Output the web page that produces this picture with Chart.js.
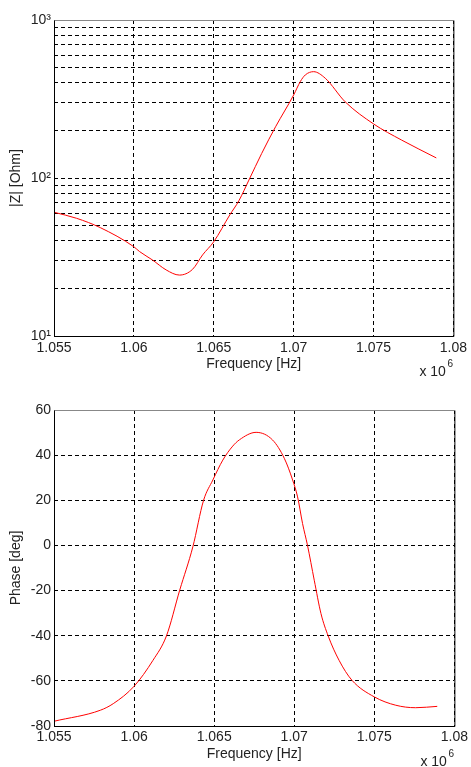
<!DOCTYPE html>
<html>
<head>
<meta charset="utf-8">
<script src="https://cdn.jsdelivr.net/npm/chart.js@4.4.1/dist/chart.umd.min.js"></script>
<style>
body { margin: 0; background: #fff; }
canvas { position: absolute; left: 0; }
#z-canvas { top: 0; }
#phase-canvas { top: 383px; }
</style>
</head>
<body>
<canvas id="z-canvas" width="471" height="383"></canvas>
<canvas id="phase-canvas" width="471" height="384"></canvas>
<script>
// frequency in Hz
const freq_z = [1.0550e6, 1.05641e6, 1.0579e6, 1.0600e6, 1.06036e6, 1.06116e6, 1.06202e6, 1.06285e6, 1.06367e6, 1.0643e6, 1.0650e6, 1.0660e6, 1.06658e6, 1.0672e6, 1.0680e6, 1.06887e6, 1.0700e6, 1.07042e6, 1.07073e6, 1.07125e6, 1.07198e6, 1.07322e6, 1.0750e6, 1.07675e6, 1.07893e6];
const z_values = [60.7, 55.6, 48.5, 36.7, 34.2, 30.3, 26.2, 24.3, 26.4, 32.6, 39.5, 58.3, 72, 97, 143, 211, 335, 408, 449, 471, 428, 304, 220, 174, 134];

const freq_phase = [1.0550e6, 1.0579e6, 1.0587e6, 1.0600e6, 1.06118e6, 1.06202e6, 1.06285e6, 1.06367e6, 1.06434e6, 1.06492e6, 1.06554e6, 1.06616e6, 1.06658e6, 1.06762e6, 1.06865e6, 1.06938e6, 1.0699e6, 1.07021e6, 1.07052e6, 1.07083e6, 1.07125e6, 1.07167e6, 1.07212e6, 1.0728e6, 1.0736e6, 1.0750e6, 1.07634e6, 1.07758e6, 1.07893e6];
const phase_values = [-77.9, -73.0, -70.1, -62.4, -50.9, -40.1, -19.8, -0.6, 20, 29, 37.8, 44.0, 46.8, 50.1, 46.7, 38.6, 29, 21.5, 9.7, 0, -15.4, -30.2, -40.1, -50.9, -59.7, -67.1, -70.8, -71.9, -71.3];

const x_ticks = [1.055e6, 1.060e6, 1.065e6, 1.070e6, 1.075e6, 1.080e6];
const x_tick_labels = ["1.055", "1.06", "1.065", "1.07", "1.075", "1.08"];
const z_grid = [10, 20, 30, 40, 50, 60, 70, 80, 90, 100, 200, 300, 400, 500, 600, 700, 800, 900, 1000];
const z_ticks = [10, 100, 1000];
const z_tick_labels = ["10\u00B9", "10\u00B2", "10\u00B3"];
const phase_ticks = [-80, -60, -40, -20, 0, 20, 40, 60];

const text_color = "#222";
const font_family = '"Liberation Sans", Arial, sans-serif';

window.onload = () => {
    Chart.defaults.font.family = font_family;
    Chart.defaults.font.size = 14;
    Chart.defaults.color = text_color;

    // box round the plot area plus the "x 10^6" multiplier
    const frame_plugin = {
        id: "frame",
        afterDraw(chart) {
            const ctx = chart.ctx;
            const a = chart.chartArea;
            ctx.save();
            ctx.lineWidth = 1;
            ctx.strokeStyle = "#000";
            ctx.beginPath();
            ctx.moveTo(a.left + 0.5, a.top + 0.5);
            ctx.lineTo(a.left + 0.5, a.bottom + 0.5);
            ctx.lineTo(a.right + 0.5, a.bottom + 0.5);
            ctx.lineTo(a.right + 0.5, a.top + 0.5);
            ctx.stroke();
            ctx.strokeStyle = "#888";
            ctx.beginPath();
            ctx.moveTo(a.left + 0.5, a.top + 0.5);
            ctx.lineTo(a.right + 0.5, a.top + 0.5);
            ctx.stroke();

            ctx.fillStyle = text_color;
            ctx.textAlign = "left";
            ctx.textBaseline = "alphabetic";
            ctx.font = "14px " + font_family;
            ctx.fillText("x 10", a.right - 34, a.bottom + 40);
            ctx.font = "10px " + font_family;
            ctx.fillText("6", a.right - 6, a.bottom + 31);
            ctx.restore();
        }
    };

    function x_axis(height, tick_pad, title_pad) {
        return {
            type: "linear",
            min: x_ticks[0],
            max: x_ticks[x_ticks.length - 1],
            afterBuildTicks: scale => { scale.ticks = x_ticks.map(v => ({ value: v })); },
            afterFit: scale => { scale.height = height; },
            grid: { color: "#000", lineWidth: 1, drawTicks: false },
            border: { display: false, dash: [4, 3] },
            ticks: {
                autoSkip: false,
                maxRotation: 0,
                padding: tick_pad,
                callback: value => {
                    const i = x_ticks.indexOf(value);
                    return i >= 0 ? x_tick_labels[i] : "";
                }
            },
            title: { display: true, text: "Frequency [Hz]", padding: { bottom: title_pad, top: 0 } }
        };
    }

    const z_data = freq_z.map((f, i) => ({ x: f, y: z_values[i] }));
    new Chart(document.getElementById("z-canvas"), {
        type: "line",
        data: {
            datasets: [{
                data: z_data,
                borderColor: "rgb(255, 0, 0)",
                borderWidth: 1,
                pointRadius: 0,
                fill: false,
                cubicInterpolationMode: "monotone"
            }]
        },
        options: {
            responsive: false,
            animation: false,
            layout: { padding: { top: 20, right: 15, left: 0, bottom: 0 } },
            plugins: { legend: { display: false }, tooltip: { enabled: false } },
            scales: {
                x: x_axis(47, 4, 10),
                y: {
                    type: "logarithmic",
                    min: 10,
                    max: 1000,
                    afterBuildTicks: scale => { scale.ticks = z_grid.map(v => ({ value: v, major: z_ticks.includes(v) })); },
                    afterFit: scale => { scale.width = 54; },
                    grid: { color: "#000", lineWidth: 1, drawTicks: false },
                    border: { display: false, dash: [4, 3] },
                    ticks: {
                        autoSkip: false,
                        padding: 3,
                        callback: value => {
                            const i = z_ticks.indexOf(value);
                            return i >= 0 ? z_tick_labels[i] : "";
                        }
                    },
                    title: { display: true, text: "|Z| [Ohm]", padding: { top: 8, bottom: 0 } }
                }
            }
        },
        plugins: [frame_plugin]
    });

    const phase_data = freq_phase.map((f, i) => ({ x: f, y: phase_values[i] }));
    new Chart(document.getElementById("phase-canvas"), {
        type: "line",
        data: {
            datasets: [{
                data: phase_data,
                borderColor: "rgb(255, 0, 0)",
                borderWidth: 1,
                pointRadius: 0,
                fill: false,
                cubicInterpolationMode: "monotone"
            }]
        },
        options: {
            responsive: false,
            animation: false,
            layout: { padding: { top: 27, right: 15, left: 0, bottom: 0 } },
            plugins: { legend: { display: false }, tooltip: { enabled: false } },
            scales: {
                x: x_axis(41, 3, 4),
                y: {
                    type: "linear",
                    min: phase_ticks[0],
                    max: phase_ticks[phase_ticks.length - 1],
                    afterBuildTicks: scale => { scale.ticks = phase_ticks.map(v => ({ value: v })); },
                    afterFit: scale => { scale.width = 54; },
                    grid: { color: "#000", lineWidth: 1, drawTicks: false },
                    border: { display: false, dash: [4, 3] },
                    ticks: {
                        autoSkip: false,
                        padding: 3,
                        callback: value => String(value)
                    },
                    title: { display: true, text: "Phase [deg]", padding: { top: 8, bottom: 0 } }
                }
            }
        },
        plugins: [frame_plugin]
    });
};
</script>
</body>
</html>
